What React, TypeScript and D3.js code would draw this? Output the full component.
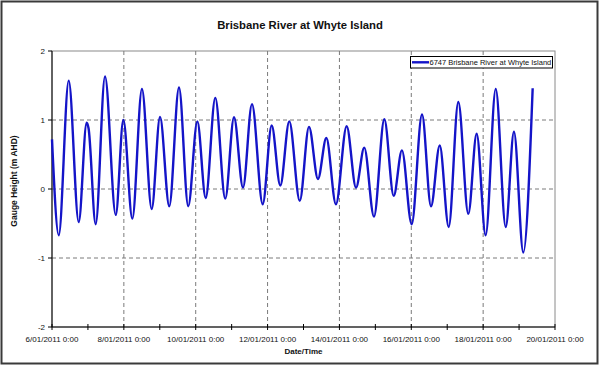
import React, { useEffect } from "react";
import * as d3 from "d3";

// tide turning points (local time)
const times = [
  "2011-01-06 00:00", "2011-01-06 04:30", "2011-01-06 11:10", "2011-01-06 17:50",
  "2011-01-06 23:10", "2011-01-07 00:25", "2011-01-07 05:10", "2011-01-07 11:25",
  "2011-01-07 18:35", "2011-01-07 23:40", "2011-01-08 05:40", "2011-01-08 12:05",
  "2011-01-08 18:35", "2011-01-09 00:10", "2011-01-09 06:20", "2011-01-09 12:50",
  "2011-01-09 19:00", "2011-01-10 01:05", "2011-01-10 06:40", "2011-01-10 13:05",
  "2011-01-10 19:45", "2011-01-11 01:35", "2011-01-11 07:35", "2011-01-11 13:35",
  "2011-01-11 20:45", "2011-01-12 02:45", "2011-01-12 08:30", "2011-01-12 14:30",
  "2011-01-12 21:30", "2011-01-13 03:40", "2011-01-13 09:40", "2011-01-13 15:15",
  "2011-01-13 21:40", "2011-01-14 04:50", "2011-01-14 11:05", "2011-01-14 16:35",
  "2011-01-14 23:05", "2011-01-15 06:00", "2011-01-15 12:15", "2011-01-15 17:45",
  "2011-01-16 00:15", "2011-01-16 07:10", "2011-01-16 13:10", "2011-01-16 19:00",
  "2011-01-17 01:00", "2011-01-17 07:25", "2011-01-17 14:05", "2011-01-17 19:40",
  "2011-01-18 01:40", "2011-01-18 08:25", "2011-01-18 15:05", "2011-01-18 20:35",
  "2011-01-19 02:50", "2011-01-19 09:05",
];
const levels = [
  0.72, -0.67, 1.57, -0.48,
  0.96, 0.88, -0.51, 1.63,
  -0.375, 1.0, -0.43, 1.45,
  -0.29, 1.045, -0.25, 1.47,
  -0.25, 0.98, -0.13, 1.32,
  -0.14, 1.04, 0.02, 1.23,
  -0.22, 0.92, 0.05, 0.98,
  -0.17, 0.9, 0.146, 0.74,
  -0.22, 0.91, 0.02, 0.6,
  -0.4, 1.01, -0.1, 0.56,
  -0.51, 1.08, -0.25, 0.63,
  -0.55, 1.26, -0.36, 0.8,
  -0.67, 1.45, -0.55, 0.83,
  -0.92, 1.46,
];
const xTickDates = [
  "2011-01-06 00:00", "2011-01-08 00:00", "2011-01-10 00:00", "2011-01-12 00:00",
  "2011-01-14 00:00", "2011-01-16 00:00", "2011-01-18 00:00", "2011-01-20 00:00",
];
const yTicks = [-2, -1, 0, 1, 2];
const seriesName = "6747 Brisbane River at Whyte Island";

const W = 600;
const H = 367;
const left = 52;
const right = 555;
const top = 51;
const bottom = 327;
const font = "'Liberation Sans', Arial, sans-serif";

const parse = d3.timeParse("%Y-%m-%d %H:%M");
const fmt = d3.timeFormat("%-d/%m/%Y %-H:%M");

export default function App() {
  useEffect(() => {
    document.body.style.margin = "0";
  }, []);

  const points = times.map((t, i) => ({ t: parse(t) as Date, v: levels[i] }));
  const tickDates = xTickDates.map((t) => parse(t) as Date);

  const x = d3
    .scaleTime()
    .domain([tickDates[0], tickDates[tickDates.length - 1]])
    .range([left, right]);
  const y = d3.scaleLinear().domain([-2, 2]).range([bottom, top]);

  const line = d3
    .line<{ t: Date; v: number }>()
    .x((d) => x(d.t))
    .y((d) => y(d.v))
    .curve(d3.curveMonotoneX);

  const dayTicks = d3.timeDay.range(tickDates[0], d3.timeDay.offset(tickDates[tickDates.length - 1], 1));

  return (
    <svg width={W} height={H} style={{ display: "block", background: "#fff" }}>
      <rect x={1.5} y={1.5} width={596} height={362} fill="#fff" stroke="#3a3a3a" strokeWidth={2} />

      <text x={300} y={29} textAnchor="middle" fontFamily={font} fontWeight="bold" fontSize={11.3} fill="#111">
        Brisbane River at Whyte Island
      </text>

      {/* plot frame */}
      <rect x={left} y={top} width={right - left} height={bottom - top} fill="#fff" stroke="#8a8a8a" strokeWidth={1} />

      {/* grid */}
      {yTicks
        .filter((v) => v > -2 && v < 2)
        .map((v) => (
          <line key={"gy" + v} x1={left} x2={right} y1={y(v)} y2={y(v)} stroke="#7a7a7a" strokeDasharray="4,3" />
        ))}
      {tickDates.slice(1, -1).map((d, i) => (
        <line key={"gx" + i} x1={x(d)} x2={x(d)} y1={top} y2={bottom} stroke="#7a7a7a" strokeDasharray="4,3" />
      ))}

      {/* axes */}
      <line x1={left} x2={left} y1={top} y2={bottom} stroke="#000" />
      <line x1={left} x2={right} y1={bottom} y2={bottom} stroke="#000" />
      {yTicks.map((v) => (
        <g key={"ty" + v}>
          <line x1={left - 4} x2={left} y1={y(v)} y2={y(v)} stroke="#000" />
          <text x={left - 7} y={y(v) + 3} textAnchor="end" fontFamily={font} fontSize={8} fill="#111">
            {v}
          </text>
        </g>
      ))}
      {dayTicks.map((d, i) => (
        <line key={"tx" + i} x1={x(d)} x2={x(d)} y1={bottom - 3} y2={bottom + 3} stroke="#000" />
      ))}
      {tickDates.map((d, i) => (
        <text key={"lx" + i} x={x(d)} y={342} textAnchor="middle" fontFamily={font} fontSize={8} fill="#111">
          {fmt(d)}
        </text>
      ))}

      <text x={x(tickDates[0]) + (right - left) / 2} y={354} textAnchor="middle" fontFamily={font} fontWeight="bold" fontSize={8} fill="#111">
        Date/Time
      </text>
      <text
        transform={`translate(17,${(top + bottom) / 2 - 8}) rotate(-90)`}
        textAnchor="middle"
        fontFamily={font}
        fontWeight="bold"
        fontSize={8.5}
        fill="#111"
      >
        Gauge Height (m AHD)
      </text>

      {/* series */}
      <path d={line(points) || ""} fill="none" stroke="#1414c8" strokeWidth={2.4} strokeLinejoin="round" />

      {/* legend */}
      <rect x={410.5} y={56.5} width={142} height={11.5} fill="#fff" stroke="#000" strokeWidth={1} />
      <line x1={412} x2={429} y1={62.3} y2={62.3} stroke="#1414c8" strokeWidth={2.4} />
      <text x={429.5} y={65.2} fontFamily={font} fontSize={7.5} fill="#111">
        {seriesName}
      </text>
    </svg>
  );
}
